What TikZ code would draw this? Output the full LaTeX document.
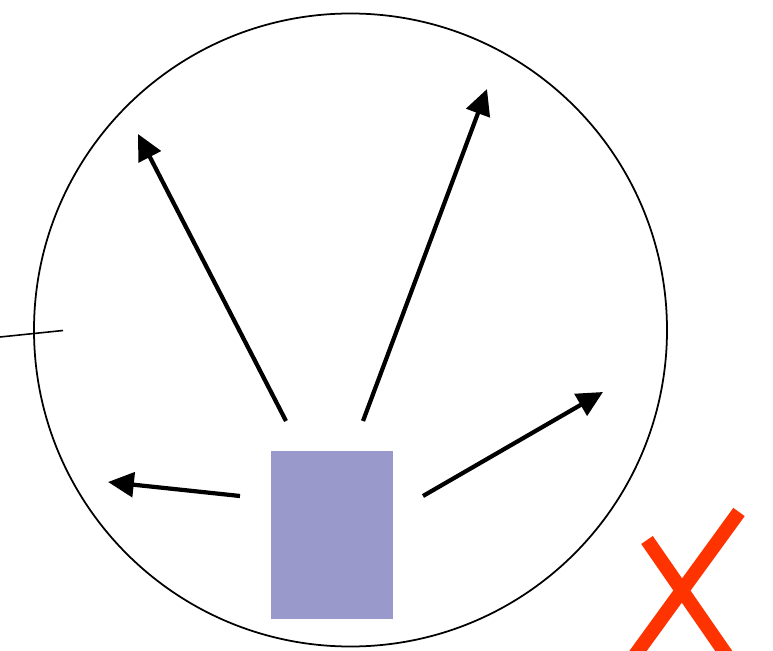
\documentclass[tikz,border=0pt]{standalone}
\usepackage{tikz}
\usetikzlibrary{arrows.meta,calc}
\definecolor{boxB}{RGB}{153,153,204}
\definecolor{crossR}{RGB}{255,51,0}

\begin{document}
\begin{tikzpicture}[x=0.02cm,y=-0.02cm,>={Triangle[length=14.7pt,width=14pt]}]
\useasboundingbox (0,0) rectangle (773,651);
\clip (0,0) rectangle (773,651);
% region and source
\node[circle,draw,line width=1pt,minimum size=633*0.02cm,inner sep=0pt] (region) at (350.5,330) {};
\node[fill=boxB,minimum width=122*0.02cm,minimum height=168*0.02cm,inner sep=0pt] (src) at (332,535) {};
% emission directions
\coordinate (s1) at (286,421);
\coordinate (s2) at (363,421);
\coordinate (s3) at (240,496);
\coordinate (s4) at (423,496);
\coordinate (t1) at (138,134);
\coordinate (t2) at (487,89);
\coordinate (t3) at (108,482);
\coordinate (t4) at (603,392);
\foreach \i in {1,...,4}
  \draw[->,line width=2.4pt] (s\i)--(t\i);
% boundary tick
\coordinate (w0) at (0,337);
\coordinate (w1) at (63,330.5);
\draw[line width=0.9pt] (w0)--(w1);
% cross
\coordinate (xa) at (647,540);
\coordinate (xb) at (730,660);
\coordinate (xc) at (739,512);
\coordinate (xd) at (630,662);
\draw[crossR,line width=8pt] (xa)--(xb);
\draw[crossR,line width=8pt] (xc)--(xd);
\end{tikzpicture}
\end{document}
